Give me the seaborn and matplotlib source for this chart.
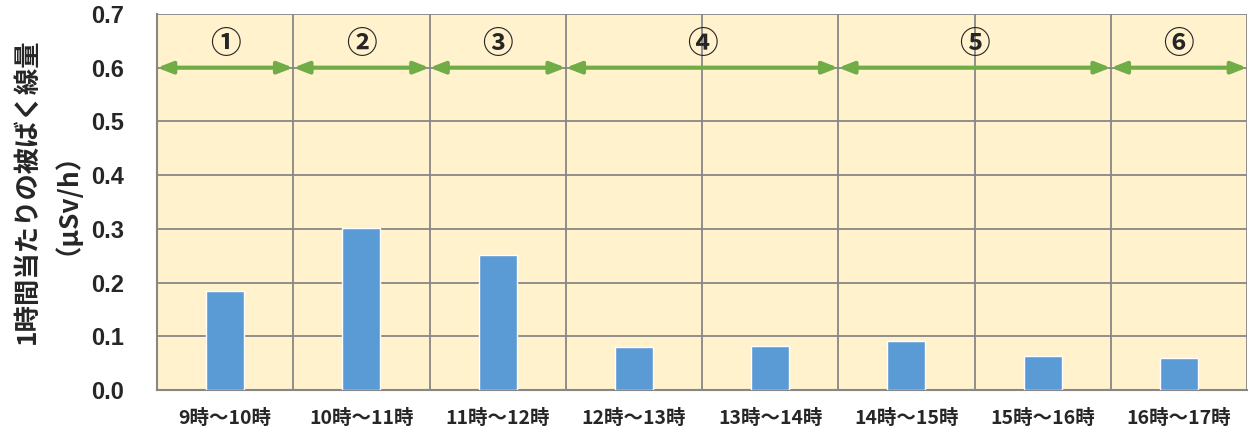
import pandas as pd
import seaborn as sns
import matplotlib.pyplot as plt

# data
hours = ['9時～10時', '10時～11時', '11時～12時', '12時～13時',
         '13時～14時', '14時～15時', '15時～16時', '16時～17時']
dose = [0.184, 0.302, 0.251, 0.080, 0.082, 0.091, 0.063, 0.060]

# measurement periods: (label, first category, last category)
period_labels = ['①', '②', '③', '④', '⑤', '⑥']
period_start = [0, 1, 2, 3, 5, 7]
period_end = [0, 1, 2, 4, 6, 7]

df = pd.DataFrame({'hour': hours, 'dose': dose})

sns.set_style('white')
plt.rcParams['font.family'] = ['Noto Sans CJK JP', 'DejaVu Sans']

fig = plt.figure(figsize=(12.5, 4.37), dpi=100)
ax = fig.add_axes([0.1256, 0.1076, 0.872, 0.8604])
ax.set_facecolor('#FFF2CC')

sns.barplot(data=df, x='hour', y='dose', color='#5B9BD5', width=0.28,
            saturation=1, ax=ax, zorder=3)

grid_c = '#878787'
ax.set_ylim(0, 0.7)
ax.set_xlim(-0.5, len(hours) - 0.5)
ax.set_yticks([i / 10 for i in range(8)])
ax.set_yticklabels([f'{i / 10:.1f}' for i in range(8)], fontsize=17,
                   fontweight='bold', family=['Liberation Sans', 'DejaVu Sans'])
ax.yaxis.grid(True, color=grid_c, linewidth=1.3, zorder=0)
for i in range(len(hours)):
    ax.axvline(i + 0.5, color=grid_c, linewidth=1.3, zorder=1)
ax.set_axisbelow(True)

ax.tick_params(axis='y', length=0, pad=24)
ax.tick_params(axis='x', direction='in', length=4, color=grid_c, width=1.3,
               pad=14, labelsize=14)
for lab in ax.get_xticklabels():
    lab.set_fontweight('bold')

for side in ['left', 'bottom']:
    ax.spines[side].set_color(grid_c)
    ax.spines[side].set_linewidth(1.5)
ax.spines['top'].set_visible(False)
ax.spines['right'].set_visible(False)

ax.set_xlabel('')
ax.set_ylabel('1時間当たりの被ばく線量\n（μSv/h）', fontsize=19,
              fontweight='bold', linespacing=0.95)
ax.yaxis.set_label_coords(-0.082, 0.53)

# period arrows and labels
for lab, s, e in zip(period_labels, period_start, period_end):
    ax.annotate('', xy=(s - 0.5, 0.6), xytext=(e + 0.5, 0.6),
                arrowprops=dict(arrowstyle='<|-|>,head_length=0.9,head_width=0.35',
                                color='#70AD47', lw=3, shrinkA=0, shrinkB=0),
                zorder=4)
    ax.text((s + e) / 2, 0.645, lab, ha='center', va='center', fontsize=22,
            fontweight='bold', zorder=4)

fig.savefig('out.png', dpi=100)
